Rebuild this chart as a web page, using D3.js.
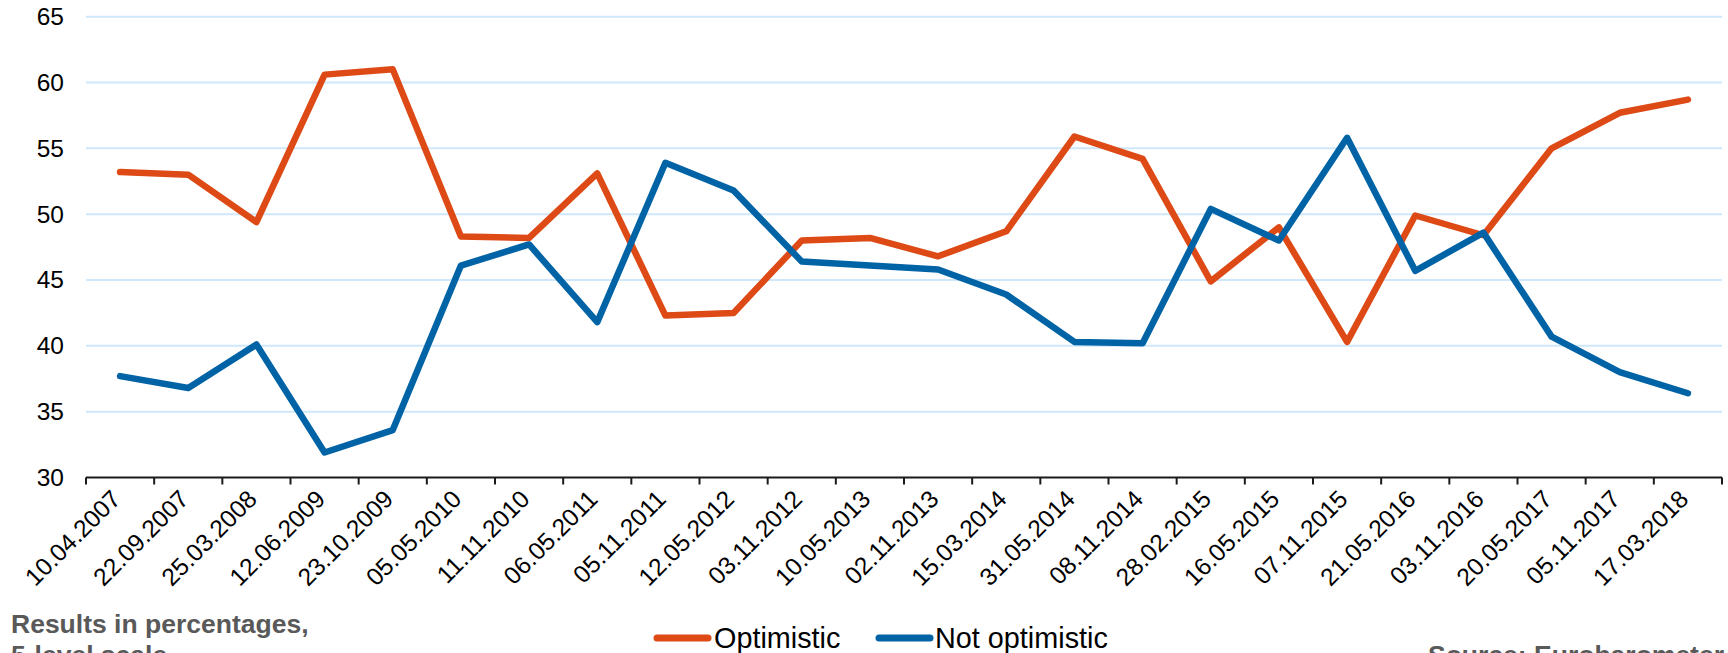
<!DOCTYPE html>
<html>
<head>
<meta charset="utf-8">
<script src="https://cdn.jsdelivr.net/npm/d3@7"></script>
<style>
  html, body { margin: 0; padding: 0; background: #fff; overflow: hidden; }
  svg { display: block; font-family: "Liberation Sans", Arial, sans-serif; }
</style>
</head>
<body>
<svg id="chart" width="1728" height="653"></svg>
<script>
const categories = ["10.04.2007","22.09.2007","25.03.2008","12.06.2009","23.10.2009","05.05.2010","11.11.2010","06.05.2011","05.11.2011","12.05.2012","03.11.2012","10.05.2013","02.11.2013","15.03.2014","31.05.2014","08.11.2014","28.02.2015","16.05.2015","07.11.2015","21.05.2016","03.11.2016","20.05.2017","05.11.2017","17.03.2018"];
const optimistic = [53.2, 53.0, 49.4, 60.6, 61.0, 48.3, 48.2, 53.1, 42.3, 42.5, 48.0, 48.2, 46.8, 48.7, 55.9, 54.2, 44.9, 49.0, 40.3, 49.9, 48.4, 55.0, 57.7, 58.7];
const notOptimistic = [37.7, 36.8, 40.1, 31.9, 33.6, 46.1, 47.7, 41.8, 53.9, 51.8, 46.4, 46.1, 45.8, 43.9, 40.3, 40.2, 50.4, 48.0, 55.8, 45.7, 48.6, 40.7, 38.0, 36.4];
const yTicks = [30, 35, 40, 45, 50, 55, 60, 65];
const seriesNames = ["Optimistic", "Not optimistic"];
const seriesColors = ["#DE4A16", "#0063A6"];
const noteLines = ["Results in percentages,", "5-level scale"];
const sourceText = "Source: Eurobarometer";

const svg = d3.select("#chart");
const mLeft = 86, mRight = 1722, mTop = 16.7, mBottom = 477.5;

const x = d3.scaleBand().domain(categories).range([mLeft, mRight]).padding(0);
const y = d3.scaleLinear().domain([30, 65]).range([mBottom, mTop]);
const cx = d => x(d) + x.bandwidth() / 2;

// gridlines
svg.append("g").selectAll("line").data(yTicks.filter(t => t !== 30)).join("line")
  .attr("x1", mLeft).attr("x2", mRight)
  .attr("y1", d => y(d)).attr("y2", d => y(d))
  .attr("stroke", "#cfe7fa").attr("stroke-width", 2);

// y axis labels
const yAxis = d3.axisLeft(y).tickValues(yTicks).tickSize(0).tickPadding(22);
const gy = svg.append("g").attr("transform", `translate(${mLeft},0)`).call(yAxis);
gy.select(".domain").remove();
gy.selectAll("text").attr("font-size", 24.5).attr("fill", "#000")
  .attr("font-family", '"Liberation Sans", Arial, sans-serif');

// x axis with boundary ticks
const gx = svg.append("g");
gx.append("line").attr("x1", mLeft).attr("x2", mRight).attr("y1", mBottom).attr("y2", mBottom)
  .attr("stroke", "#1a1a1a").attr("stroke-width", 2);
const boundaries = categories.map(c => x(c)).concat([mRight]);
gx.selectAll("line.tick").data(boundaries).join("line").attr("class", "tick")
  .attr("x1", d => d).attr("x2", d => d).attr("y1", mBottom).attr("y2", mBottom + 7)
  .attr("stroke", "#1a1a1a").attr("stroke-width", 2);
gx.selectAll("text").data(categories).join("text")
  .attr("transform", d => `translate(${cx(d) + 2},${mBottom + 23}) rotate(-45)`)
  .attr("text-anchor", "end")
  .attr("font-size", 24.5).attr("fill", "#000")
  .text(d => d);

// lines
const line = d3.line().x((d, i) => cx(categories[i])).y(d => y(d));
[optimistic, notOptimistic].forEach((s, k) => {
  svg.append("path").datum(s).attr("d", line)
    .attr("fill", "none").attr("stroke", seriesColors[k]).attr("stroke-width", 6.5)
    .attr("stroke-linejoin", "round").attr("stroke-linecap", "round");
});

// legend
const legendItems = [{x: 657, tx: 714}, {x: 879, tx: 935}];
legendItems.forEach((p, k) => {
  svg.append("line").attr("x1", p.x).attr("x2", p.x + 51).attr("y1", 638).attr("y2", 638)
    .attr("stroke", seriesColors[k]).attr("stroke-width", 7).attr("stroke-linecap", "round");
  svg.append("text").attr("x", p.tx).attr("y", 648).attr("font-size", 28.8).attr("fill", "#000")
    .text(seriesNames[k]);
});

// notes
svg.selectAll("text.note").data(noteLines).join("text").attr("class", "note")
  .attr("x", 11).attr("y", (d, i) => 633 + i * 31)
  .attr("font-size", 26.5).attr("font-weight", "bold").attr("fill", "#595959")
  .text(d => d);
svg.append("text").attr("x", 1428).attr("y", 664)
  .attr("font-size", 26.5).attr("font-weight", "bold").attr("fill", "#595959")
  .text(sourceText);
</script>
</body>
</html>
